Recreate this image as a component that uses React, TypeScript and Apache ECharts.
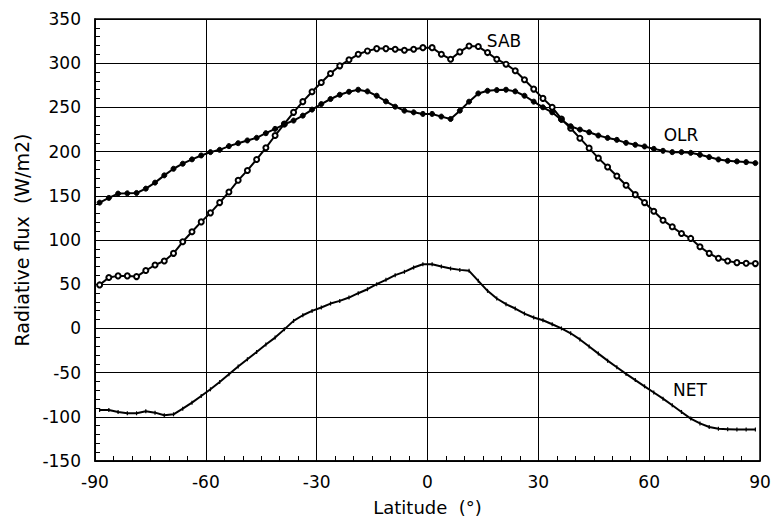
import React, { useEffect, useRef } from "react";
import * as echarts from "echarts";

const latitudes = [
  -88.75, -86.25, -83.75, -81.25, -78.75, -76.25, -73.75, -71.25, -68.75, -66.25,
  -63.75, -61.25, -58.75, -56.25, -53.75, -51.25, -48.75, -46.25, -43.75, -41.25,
  -38.75, -36.25, -33.75, -31.25, -28.75, -26.25, -23.75, -21.25, -18.75, -16.25,
  -13.75, -11.25, -8.75, -6.25, -3.75, -1.25, 1.25, 3.75, 6.25, 8.75,
  11.25, 13.75, 16.25, 18.75, 21.25, 23.75, 26.25, 28.75, 31.25, 33.75,
  36.25, 38.75, 41.25, 43.75, 46.25, 48.75, 51.25, 53.75, 56.25, 58.75,
  61.25, 63.75, 66.25, 68.75, 71.25, 73.75, 76.25, 78.75, 81.25, 83.75,
  86.25, 88.75,
];

const sabValues = [
  49.2, 57.5, 59.4, 59.4, 58.6, 65.4, 71.7, 76.3, 84.9, 98,
  109.3, 120.5, 130.7, 142.3, 154.3, 167.5, 178.7, 191.1, 204.3, 218.2,
  231.3, 244.4, 256.5, 267.7, 278.2, 288.4, 297, 303.8, 310.1, 313.9,
  316.5, 316.5, 315.8, 314.6, 315.8, 317.6, 317.6, 310.1, 304.5, 312.8,
  319.5, 318.8, 312, 304.5, 298.9, 291.4, 281.2, 270.7, 260.2, 250.1,
  236.9, 226.4, 215.2, 203.9, 192.6, 182.5, 172.4, 161.9, 151.3, 142.3,
  132.6, 122.4, 114.9, 107.4, 101.8, 92.4, 84.9, 79.3, 76.3, 74.4,
  73.6, 73.3,
];

const olrValues = [
  142.3, 147.6, 152.5, 152.8, 153.2, 158.1, 164.9, 173.1, 180.6, 186.3,
  191.2, 195.6, 199.4, 202, 206.2, 209.5, 212.6, 215.6, 220.8, 225.7,
  230.9, 235.1, 240.7, 247.5, 253.8, 259.5, 264.3, 267.7, 270, 268.1,
  263.2, 256.8, 250.8, 246.3, 244.4, 242.6, 242.6, 239.6, 236.9, 246.3,
  256.5, 265.8, 268.8, 269.6, 270, 268.1, 263.2, 256.5, 250.1, 244.4,
  235.8, 228.7, 224.9, 221.9, 218.2, 215.5, 213.3, 209.9, 207.7, 205.8,
  203.1, 200.9, 199.4, 199.4, 198.6, 196.4, 193.8, 191.1, 189.6, 188.9,
  188.1, 187,
];

const netValues = [
  -92.3, -92.3, -94.5, -96, -96, -93.8, -95.3, -98.3, -97.2, -90.8,
  -84, -76.4, -68.9, -60.6, -51.9, -43.2, -34.9, -26.6, -18.3, -10.4,
  -1.1, 8.5, 14.9, 19.8, 23.6, 28.1, 31.1, 34.9, 39.8, 44.3,
  50, 54.9, 60.2, 64, 68.9, 72.6, 72.6, 70, 67.7, 66.2,
  65.1, 53.8, 42.5, 33.8, 27.4, 22.5, 16.8, 12.3, 9.2, 4.7,
  0, -5.5, -12.5, -20.5, -28.5, -36.5, -44, -51.5, -58.5, -65.5,
  -72.5, -79.5, -87, -94.5, -102, -107.5, -111.5, -113.5, -114, -114.5,
  -114.5, -114.5,
];

const seriesLabels = [
  { text: "SAB", x: 504, y: 41 },
  { text: "OLR", x: 681, y: 135 },
  { text: "NET", x: 690, y: 390 },
];

const FONT = "DejaVu Sans";

export default function App() {
  const ref = useRef<HTMLDivElement>(null);

  useEffect(() => {
    if (!ref.current) return;
    const chart = echarts.init(ref.current, null, { renderer: "svg" });
    const pairs = (vals: number[]) => latitudes.map((x, i) => [x, vals[i]]);

    chart.setOption({
      animation: false,
      backgroundColor: "#ffffff",
      grid: {
        left: 95,
        right: 14,
        top: 19,
        bottom: 63,
        show: true,
        borderColor: "#000",
        borderWidth: 1.5,
      },
      xAxis: {
        type: "value",
        min: -90,
        max: 90,
        interval: 30,
        name: "Latitude  (°)",
        nameLocation: "middle",
        nameGap: 37,
        nameTextStyle: { fontFamily: FONT, fontSize: 18, color: "#000" },
        axisLine: { show: true, onZero: false, lineStyle: { color: "#000", width: 1.5 } },
        axisTick: { show: true, inside: true, length: 5, lineStyle: { color: "#000" } },
        minorTick: { show: true, splitNumber: 6, length: 5, lineStyle: { color: "#000", width: 1 } },
        splitLine: { show: true, lineStyle: { color: "#000", width: 1 } },
        axisLabel: { fontFamily: FONT, fontSize: 17, color: "#000", margin: 12 },
      },
      yAxis: {
        type: "value",
        min: -150,
        max: 350,
        interval: 50,
        name: "Radiative flux  (W/m2)",
        nameLocation: "middle",
        nameRotate: 90,
        nameGap: 62,
        nameTextStyle: { fontFamily: FONT, fontSize: 19, color: "#000" },
        axisLine: { show: true, onZero: false, lineStyle: { color: "#000", width: 1.5 } },
        axisTick: { show: true, inside: true, length: 5, lineStyle: { color: "#000" } },
        minorTick: { show: true, splitNumber: 5, length: 5, lineStyle: { color: "#000", width: 1 } },
        splitLine: { show: true, lineStyle: { color: "#000", width: 1 } },
        axisLabel: { fontFamily: FONT, fontSize: 17, color: "#000", margin: 14 },
      },
      series: [
        {
          name: "SAB",
          type: "line",
          data: pairs(sabValues),
          symbol: "circle",
          symbolSize: 5,
          showAllSymbol: true,
          lineStyle: { color: "#000", width: 2 },
          itemStyle: { color: "#fff", borderColor: "#000", borderWidth: 2 },
          z: 3,
        },
        {
          name: "OLR",
          type: "line",
          data: pairs(olrValues),
          symbol: "circle",
          symbolSize: 5,
          showAllSymbol: true,
          lineStyle: { color: "#000", width: 2 },
          itemStyle: { color: "#000", borderColor: "#000", borderWidth: 1 },
          z: 4,
        },
        {
          name: "NET",
          type: "line",
          data: pairs(netValues),
          symbol: "rect",
          symbolSize: [1.2, 4],
          showAllSymbol: true,
          lineStyle: { color: "#000", width: 2 },
          itemStyle: { color: "#000" },
          z: 3,
        },
      ],
      graphic: seriesLabels.map((l) => ({
        type: "text",
        x: l.x,
        y: l.y,
        style: {
          text: l.text,
          fontFamily: FONT,
          fontSize: 17,
          fill: "#000",
          textAlign: "center",
          textVerticalAlign: "middle",
        },
      })),
    });

    return () => chart.dispose();
  }, []);

  return (
    <div
      ref={ref}
      style={{ position: "absolute", left: 0, top: 0, width: 774, height: 524, background: "#fff" }}
    />
  );
}
